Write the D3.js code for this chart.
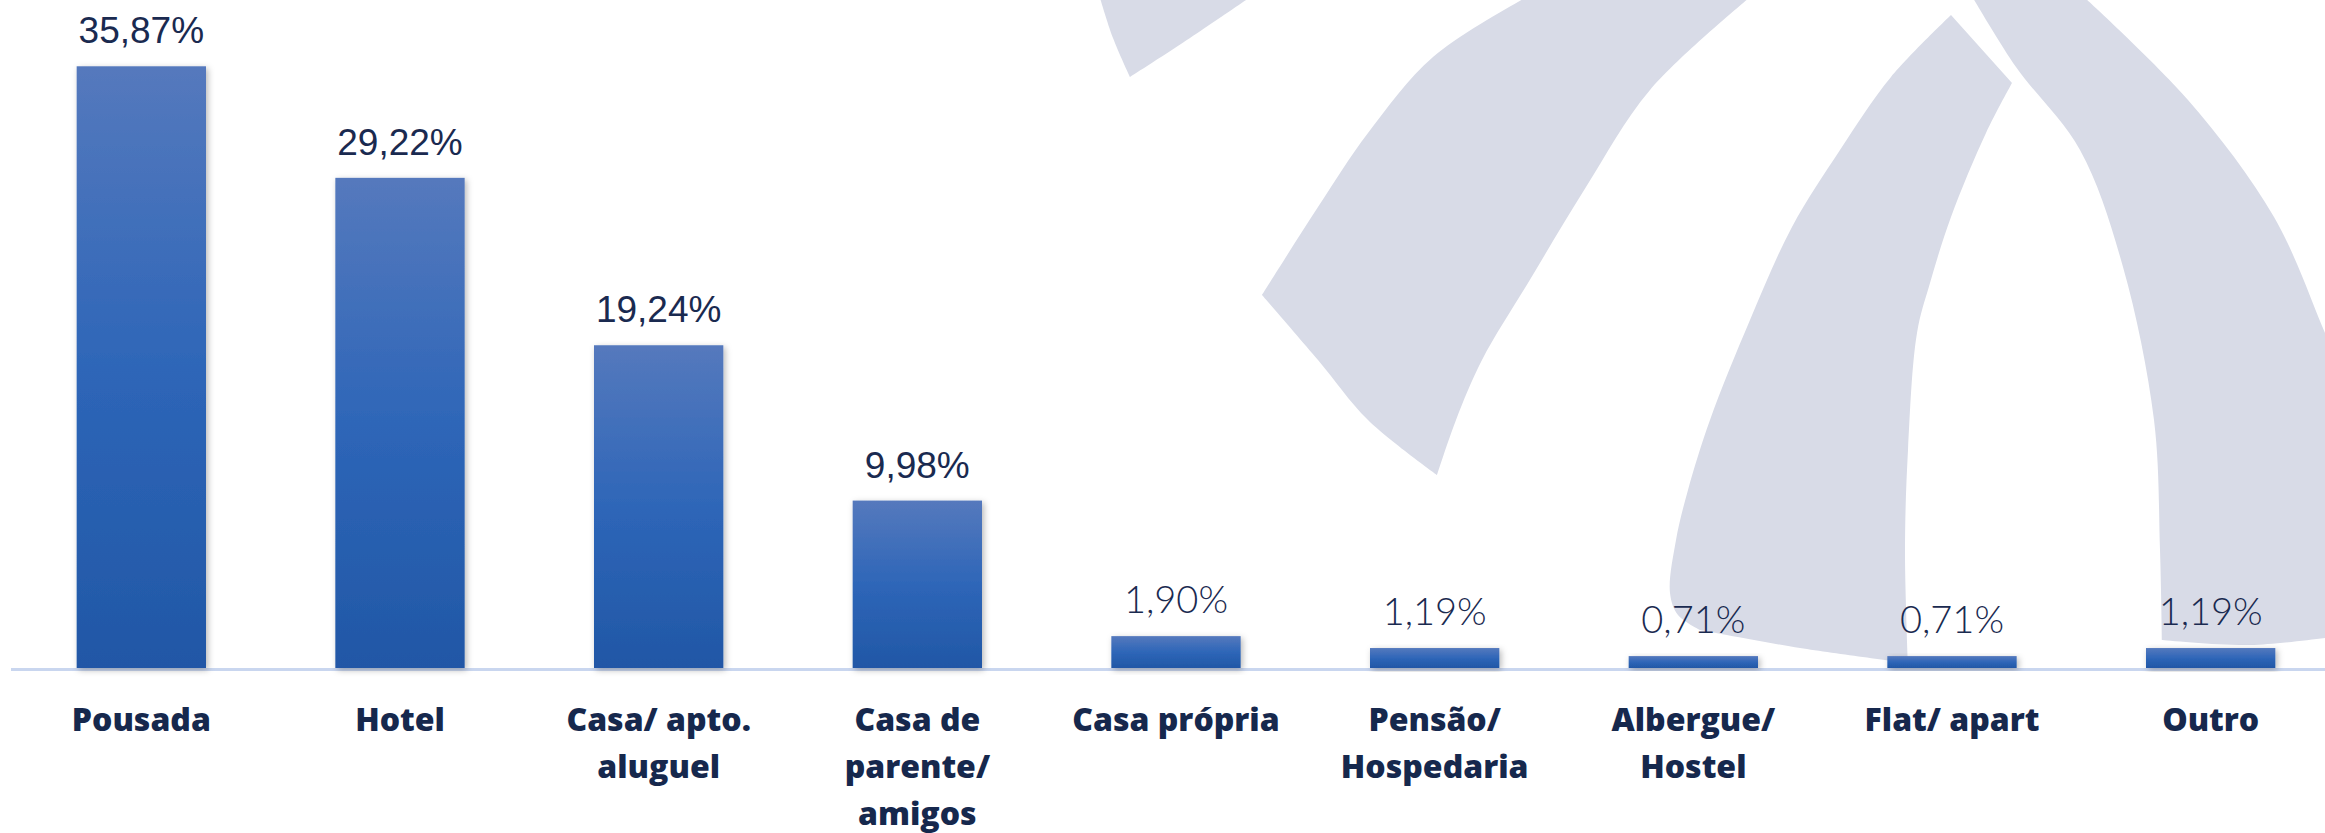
<!DOCTYPE html>
<html>
<head>
<meta charset="utf-8">
<script src="https://cdn.jsdelivr.net/npm/d3@7"></script>
<style>
  html, body { margin: 0; padding: 0; background: #ffffff; }
  svg { display: block; }
</style>
</head>
<body>
<svg id="chart" width="2325" height="833"></svg>
<script>
// ---- data ----
const categories = [
  "Pousada",
  "Hotel",
  "Casa/ apto.\naluguel",
  "Casa de\nparente/\namigos",
  "Casa própria",
  "Pensão/\nHospedaria",
  "Albergue/\nHostel",
  "Flat/ apart",
  "Outro"
];
const values = [35.87, 29.22, 19.24, 9.98, 1.90, 1.19, 0.71, 0.71, 1.19];

// ---- layout ----
const W = 2325, H = 833;
const baseY = 668;
const svg = d3.select("#chart");

const x = d3.scaleBand()
  .domain(categories)
  .range([12, 2340])
  .paddingInner(0.5)
  .paddingOuter(0.25);

const y = d3.scaleLinear()
  .domain([0, 40])
  .range([baseY, -3]);

const defs = svg.append("defs");
const grad = defs.append("linearGradient")
  .attr("id", "barGrad").attr("x1", 0).attr("y1", 0).attr("x2", 0).attr("y2", 1);
grad.append("stop").attr("offset", "0%").attr("stop-color", "#5579bd");
grad.append("stop").attr("offset", "50%").attr("stop-color", "#2e66b8");
grad.append("stop").attr("offset", "100%").attr("stop-color", "#2157a6");

const shadow = defs.append("filter").attr("id", "shadow")
  .attr("x", "-20%").attr("y", "-20%").attr("width", "140%").attr("height", "140%");
shadow.append("feDropShadow")
  .attr("dx", 2).attr("dy", 2).attr("stdDeviation", 3)
  .attr("flood-color", "#000").attr("flood-opacity", 0.28);

// ---- decorative watermark (background logo) ----
const edgeLine = d3.line().curve(d3.curveCatmullRom.alpha(0.5));
function shapePath(edges) {
  return edges.map((e, i) => {
    const s = edgeLine(e);
    return i === 0 ? s : s.replace(/^M/, "L");
  }).join("") + "Z";
}
const wm = svg.append("g").attr("fill", "#d8dbe7");
const shapes = [
  [
    [[1100, -2], [1113, 38], [1130, 77]],
    [[1130, 77], [1190, 38], [1249, -2]]
  ],
  [
    [[1525, -2], [1433, 57], [1368, 133], [1318, 207], [1262, 295]],
    [[1262, 295], [1318, 360], [1368, 420], [1437, 475]],
    [[1437, 475], [1456, 420], [1482, 360], [1528, 283], [1586, 187], [1650, 90], [1749, -2]]
  ],
  [
    [[1951, 15], [1891, 77], [1840, 150], [1792, 227], [1750, 320], [1710, 420], [1688, 490], [1676, 540], [1670, 593], [1678, 615], [1700, 630]],
    [[1700, 630], [1800, 648], [1908, 663]],
    [[1908, 663], [1905, 550], [1908, 450], [1917, 333], [1930, 283], [1951, 217], [1986, 133], [2012, 83]],
    [[2012, 83], [1951, 15]]
  ],
  [
    [[1973, -2], [2016, 67], [2080, 150], [2123, 267], [2154, 420], [2160, 550], [2162, 640]],
    [[2162, 640], [2250, 645], [2340, 636]],
    [[2340, 636], [2345, 380]],
    [[2345, 380], [2325, 333], [2274, 217], [2188, 100], [2085, -2]]
  ]
];
wm.selectAll("path").data(shapes).join("path").attr("d", d => shapePath(d));

// ---- baseline ----
svg.append("line")
  .attr("x1", 11).attr("x2", W)
  .attr("y1", baseY + 1.5).attr("y2", baseY + 1.5)
  .attr("stroke", "#c9d6ef").attr("stroke-width", 3);

// ---- bars ----
svg.append("g").selectAll("rect")
  .data(values)
  .join("rect")
  .attr("x", (d, i) => x(categories[i]))
  .attr("width", x.bandwidth())
  .attr("y", d => y(d))
  .attr("height", d => y(0) - y(d))
  .attr("fill", "url(#barGrad)")
  .attr("filter", "url(#shadow)");

// ---- value labels ----
const fmt = d => d3.format(".2f")(d).replace(".", ",") + "%";
svg.append("g").selectAll("text")
  .data(values)
  .join("text")
  .attr("x", (d, i) => x(categories[i]) + x.bandwidth() / 2)
  .attr("y", d => y(d) - 23)
  .attr("text-anchor", "middle")
  .attr("fill", "#1a2a50")
  .style("font-family", (d, i) => i < 4 ? "'Liberation Sans', Arial, sans-serif" : "Lato, 'Open Sans', sans-serif")
  .style("font-weight", (d, i) => i < 4 ? 400 : 300)
  .style("font-size", (d, i) => i < 4 ? "37px" : "38px")
  .text(d => fmt(d));

// ---- category labels ----
const catG = svg.append("g")
  .attr("fill", "#16284d")
  .style("font-family", "'Open Sans', 'Noto Sans', sans-serif")
  .style("font-weight", 800)
  .style("font-size", "32px");
categories.forEach(c => {
  const t = catG.append("text")
    .attr("x", x(c) + x.bandwidth() / 2)
    .attr("y", 731)
    .attr("text-anchor", "middle");
  c.split("\n").forEach((line, j) => {
    t.append("tspan")
      .attr("x", x(c) + x.bandwidth() / 2)
      .attr("dy", j === 0 ? 0 : 47)
      .text(line);
  });
});
</script>
</body>
</html>
